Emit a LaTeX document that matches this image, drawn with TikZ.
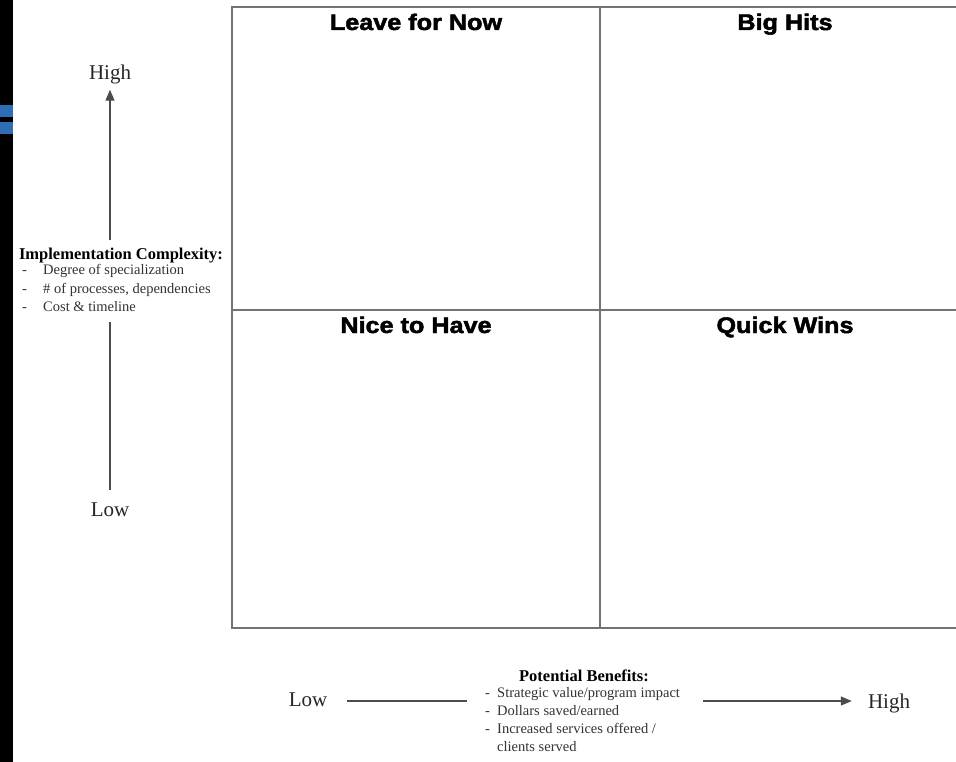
\documentclass[tikz,border=0pt]{standalone}
\usepackage{fontspec}
\setmainfont{Liberation Serif}
\newfontfamily\titlefont[FakeStretch=1.12, BoldFeatures={FakeBold=2.2}]{Liberation Sans}
\usetikzlibrary{arrows.meta}
\definecolor{barblue}{HTML}{2F6DB5}
\begin{document}
\begin{tikzpicture}[x=1pt,y=-1pt,
  gridline/.style={draw=black!55, line width=1.4pt},
  qtitle/.style={font=\titlefont\bfseries\fontsize{22.5}{24}\selectfont, anchor=base, inner sep=0pt},
  axlabel/.style={font=\fontsize{21}{24}\selectfont, anchor=base, inner sep=0pt, text=black!85},
  headlbl/.style={font=\bfseries\fontsize{16.5}{18}\selectfont, anchor=base, inner sep=0pt},
  itemlbl/.style={font=\fontsize{14.5}{18}\selectfont, anchor=base west, inner sep=0pt, text=black!80},
  axline/.style={draw=black!70, line width=1.3pt},
  axarrow/.style={axline, -{Triangle[length=11pt,width=9pt]}},
]
\useasboundingbox (0,0) rectangle (956,762);
\fill[white] (0,0) rectangle (956,762);
% left dark strip with blue bars
\fill[black] (0,0) rectangle (13,762);
\fill[barblue] (0,105) rectangle (13,117);
\fill[barblue] (0,122) rectangle (13,134);
% grid
\draw[gridline] (956,7) -- (232,7) -- (232,628) -- (956,628);
\draw[gridline] (600,7) -- (600,628);
\draw[gridline] (232,310) -- (956,310);
% quadrant titles
\node[qtitle] (q1) at (416,30) {Leave for Now};
\node[qtitle] (q2) at (785,30) {Big Hits};
\node[qtitle] (q3) at (416,333) {Nice to Have};
\node[qtitle] (q4) at (785,333) {Quick Wins};
% vertical axis
\node[axlabel] (lhigh) at (110,80) {High};
\node[axlabel] (llow) at (110,516) {Low};
\node[headlbl] (lhead) at (121,260) {Implementation Complexity:};
\node[itemlbl] (li1) at (22,275) {\makebox[21pt][l]{-}Degree of specialization};
\node[itemlbl] (li2) at (22,293) {\makebox[21pt][l]{-}\# of processes, dependencies};
\node[itemlbl] (li3) at (22,311) {\makebox[21pt][l]{-}Cost \& timeline};
\draw[axarrow, shorten <=8pt, shorten >=5pt] (lhead.north -| lhigh.south) -- (lhigh.south);
\draw[axline, shorten <=11pt, shorten >=12pt] (li3.south -| llow.north) -- (llow.north);
% horizontal axis
\node[axlabel] (blow) at (308,706) {Low};
\node[axlabel] (bhigh) at (889,708) {High};
\node[headlbl] (bhead) at (584,681) {Potential Benefits:};
\node[itemlbl] (bi1) at (485,697) {\makebox[12pt][l]{-}Strategic value/program impact};
\node[itemlbl] (bi2) at (485,715) {\makebox[12pt][l]{-}Dollars saved/earned};
\node[itemlbl] (bi3) at (485,733) {\makebox[12pt][l]{-}Increased services offered /};
\node[itemlbl] (bi4) at (497,751) {clients served};
\coordinate (bleft) at (467,701);
\coordinate (bright) at (703,701);
\draw[axline, shorten <=20pt] (blow.east |- bleft) -- (bleft);
\draw[axarrow, shorten >=16pt] (bright) -- (bhigh.west |- bright);
\end{tikzpicture}
\end{document}
